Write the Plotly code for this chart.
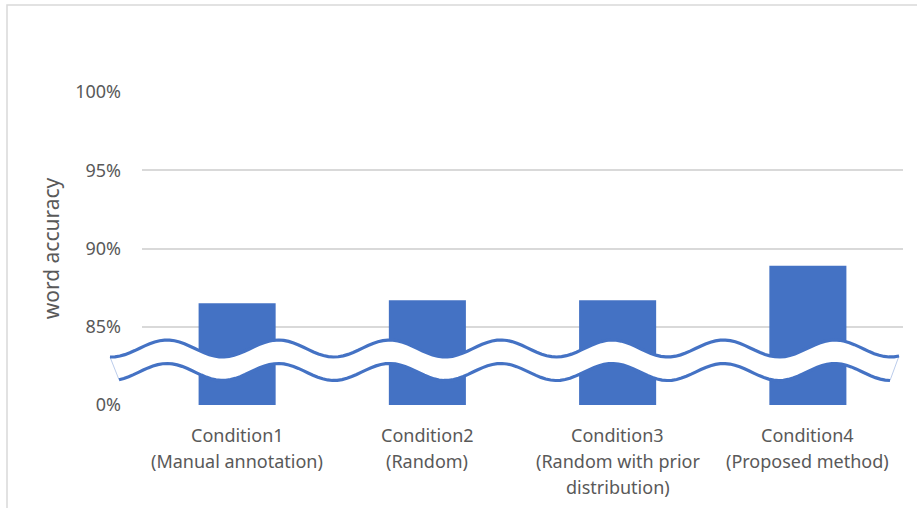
import numpy as np
import plotly.graph_objects as go

# Word accuracy per experimental condition
conditions = ["Condition1", "Condition2", "Condition3", "Condition4"]
descriptions = [
    ["(Manual annotation)"],
    ["(Random)"],
    ["(Random with prior", "distribution)"],
    ["(Proposed method)"],
]
accuracy = [0.865, 0.867, 0.867, 0.889]

# Broken axis: the bottom tick stands for 0%, the rest are true values
tick_vals = [0.80, 0.85, 0.90, 0.95, 1.00]
tick_text = ["0%", "85%", "90%", "95%", "100%"]

W, H = 917, 508
ML, MR, MT, MB = 142, 14, 92, 103
PW, PH = W - ML - MR, H - MT - MB

BLUE = "#4472C4"
GREY_TXT = "#595959"
GRID = "#D9D9D9"
FONT = "Noto Sans"


def px_x(p):
    return (p - ML) / PW


def px_y(p):
    return (H - MB - p) / PH


fig = go.Figure()
fig.add_trace(go.Bar(
    x=conditions, y=accuracy,
    marker=dict(color=BLUE, line=dict(width=0)),
    hoverinfo="x+y",
))

# Axis break: a white wavy band outlined in blue
period, amp, mid, gap = 111.3, 8.5, 348.5, 23.5


def wave(x0, x1, offset):
    xs = np.linspace(x0, x1, 160)
    ys = mid + offset - amp * np.cos(2 * np.pi * (xs - 167) / period)
    return xs, ys


ux, uy = wave(110, 899, 0)
lx, ly = wave(119, 890, gap)


def path(xs, ys, close=False):
    pts = " L ".join(f"{px_x(a):.5f},{px_y(b):.5f}" for a, b in zip(xs, ys))
    return "M " + pts + (" Z" if close else "")


band = path(np.concatenate([ux, lx[::-1]]), np.concatenate([uy, ly[::-1]]), close=True)
shapes = [
    dict(type="path", path=band, xref="paper", yref="paper",
         fillcolor="white", line=dict(color="#A9BFE6", width=0.8), layer="above"),
    dict(type="path", path=path(ux, uy), xref="paper", yref="paper",
         line=dict(color=BLUE, width=3.2), layer="above"),
    dict(type="path", path=path(lx, ly), xref="paper", yref="paper",
         line=dict(color=BLUE, width=3.2), layer="above"),
    # chart frame
    dict(type="rect", xref="paper", yref="paper",
         x0=px_x(7), x1=px_x(W + 5), y0=px_y(H + 5), y1=px_y(5),
         line=dict(color=GRID, width=1.5), fillcolor="rgba(0,0,0,0)", layer="below"),
]

# Two- or three-line category labels under each bar
annotations = []
for cat, desc in zip(conditions, descriptions):
    for i, line in enumerate([cat] + desc):
        annotations.append(dict(
            x=cat, xref="x", y=0, yref="paper", yanchor="middle",
            yshift=-(30 + 26 * i), text=line, showarrow=False,
            font=dict(family=FONT, size=18, color=GREY_TXT),
        ))

fig.update_layout(
    width=W, height=H,
    margin=dict(l=ML, r=MR, t=MT, b=MB, autoexpand=False),
    paper_bgcolor="white", plot_bgcolor="white",
    showlegend=False, bargap=0.595,
    shapes=shapes, annotations=annotations,
    xaxis=dict(showticklabels=False, showgrid=False, zeroline=False,
               showline=False, ticks=""),
    yaxis=dict(
        range=[0.80, 1.00], tickvals=tick_vals, ticktext=tick_text,
        showgrid=True, gridcolor=GRID, gridwidth=1.5, zeroline=False,
        showline=False, ticks="", ticklabelstandoff=20,
        tickfont=dict(family=FONT, size=18, color=GREY_TXT),
        title=dict(text="word accuracy", standoff=9,
                   font=dict(family=FONT, size=21, color=GREY_TXT)),
    ),
)

fig.write_html("out.html")
